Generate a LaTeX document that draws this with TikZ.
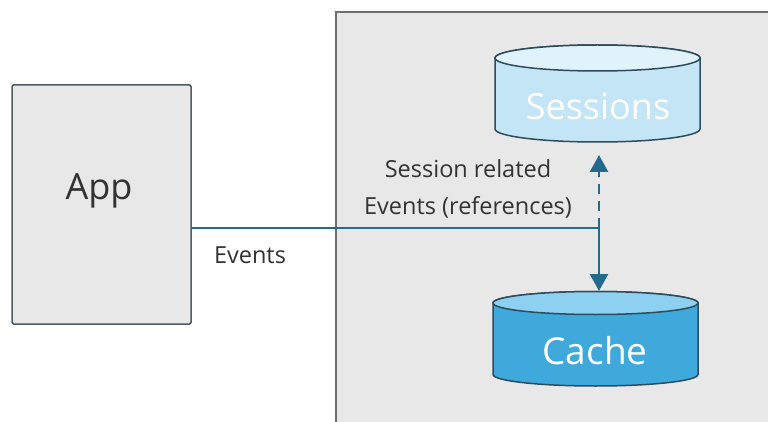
\documentclass[tikz,border=0pt]{standalone}
\usepackage{fontspec}
\setmainfont{Open Sans}
\usetikzlibrary{arrows.meta}
\definecolor{boxgrey}{HTML}{E8E8E8}
\definecolor{boxedge}{HTML}{4F5B63}
\definecolor{contedge}{HTML}{6E6E6E}
\definecolor{linkblue}{HTML}{246A8C}
\definecolor{txt}{HTML}{333333}
\definecolor{sessbody}{HTML}{C4E5F5}
\definecolor{sesstop}{HTML}{E0F2FB}
\definecolor{cachebody}{HTML}{3FA9DC}
\definecolor{cachetop}{HTML}{8DD0EF}
\definecolor{cyledge}{HTML}{2E4B5B}
\tikzset{
  appbox/.style={draw=boxedge, fill=boxgrey, line width=1.5pt, rounded corners=1.5pt, minimum width=179pt, minimum height=239pt, inner sep=0pt},
  lbl/.style={text=txt, font=\fontsize{23.5}{37}\selectfont, inner sep=0pt, align=center},
  cyltext/.style={text=white, inner sep=0pt},
  link/.style={draw=linkblue, line width=2pt},
  tip/.style={-{Triangle[width=18pt,length=17pt]}, color=linkblue, line width=2.5pt},
  cyl/.style={draw=cyledge, line width=1.5pt}
}
\begin{document}
\begin{tikzpicture}[x=1pt,y=1pt]
\useasboundingbox (0,0) rectangle (768,421);
\clip (0,0) rectangle (768,421);
\fill[white] (0,0) rectangle (768,421);
% container
\draw[draw=contedge, fill=boxgrey, line width=1.5pt] (336,-10) rectangle (780,409);
% App
\node[appbox] (app) at (101.5,216.5) {};
\node[lbl, font=\fontsize{36}{40}\selectfont] (applbl) at (99,230) {App};
% Sessions cylinder
\path[cyl, fill=sessbody] (495,363) -- (495,292) arc[start angle=180,end angle=360,x radius=102.5,y radius=13] -- (700,363) arc[start angle=0,end angle=180,x radius=102.5,y radius=13] -- cycle;
\path[cyl, fill=sesstop] (597.5,363) ellipse[x radius=102.5,y radius=13];
\node[cyltext, font=\fontsize{36}{40}\selectfont] (sessions) at (598,315) {Sessions};
\coordinate (sessbot) at (599,266);
% Cache cylinder
\path[cyl, fill=cachebody] (493,118) -- (493,46.5) arc[start angle=180,end angle=360,x radius=102.5,y radius=11.5] -- (698,118) arc[start angle=0,end angle=180,x radius=102.5,y radius=11.5] -- cycle;
\path[cyl, fill=cachetop] (595.5,118) ellipse[x radius=102.5,y radius=11.5];
\node[cyltext, font=\fontsize{37}{40}\selectfont] (cache) at (595,70) {Cache};
\coordinate (cachetop) at (599,130);
% connectors
\coordinate (junc) at (599,193);
\draw[link] (app.east |- junc) -- (junc);
\draw[tip] (junc) -- (cachetop);
\draw[tip, dash pattern=on 10pt off 7pt] (junc) -- (sessbot);
% labels
\node[lbl, font=\fontsize{23.5}{26}\selectfont] (evlbl) at (250,166) {Events};
\node[lbl] (srlbl) at (468,232.5) {Session related\\Events (references)};
\end{tikzpicture}
\end{document}
